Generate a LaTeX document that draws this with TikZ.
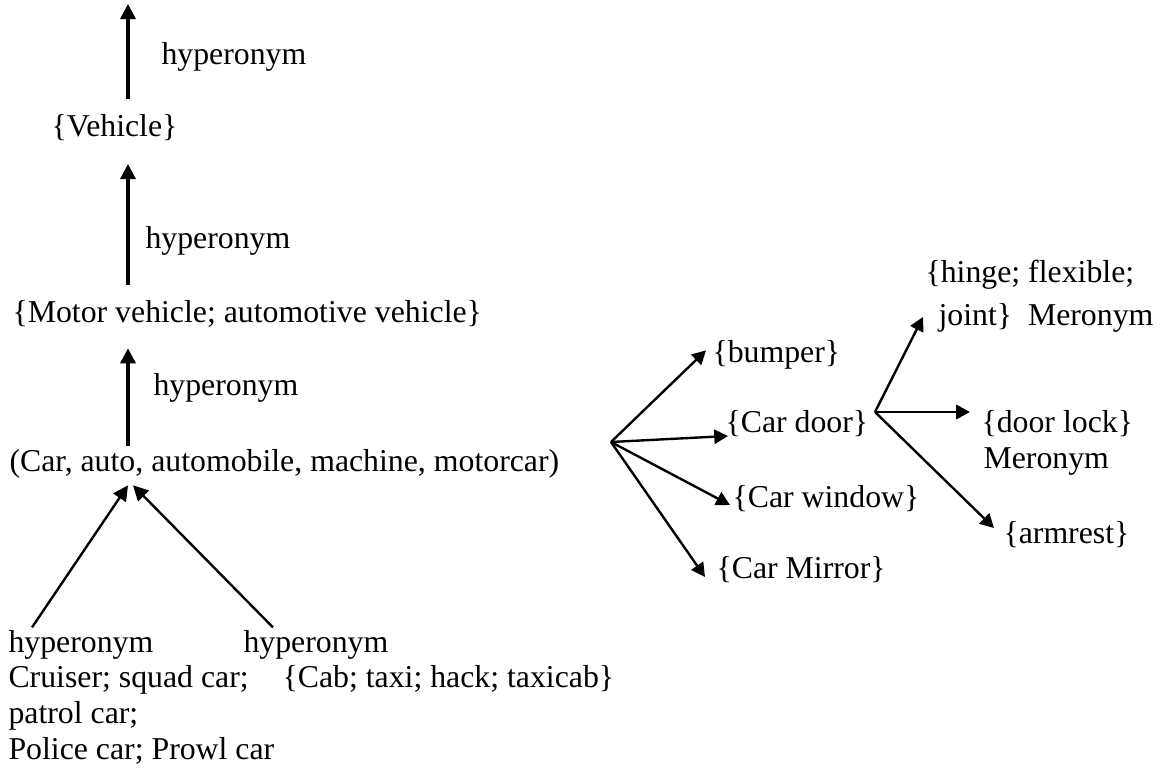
\documentclass[tikz,border=0pt]{standalone}
\usepackage{fontspec}
\setmainfont{Liberation Serif}
\usetikzlibrary{arrows.meta,calc}

\tikzset{
  word/.style={anchor=base west, inner sep=0pt, font=\fontsize{12}{13.8}\selectfont},
  hyp/.style={line width=1.2pt, -{Triangle[length=5.7pt,width=5.7pt]}},
  part/.style={line width=0.9pt, -{Triangle[length=5.2pt,width=5.4pt]}},
}

\begin{document}
\begin{tikzpicture}[x=0.3774pt, y=-0.3774pt]
  \useasboundingbox (0,0) rectangle (1161,772);

  % hyperonym chain on the left
  \coordinate (col) at (128,0);
  \coordinate (top) at (128,4);
  \node[word] (vehicle) at (51,137) {\{Vehicle\}};
  \node[word] (motor) at (12,322) {\{Motor vehicle; automotive vehicle\}};
  \node[word] (car) at (9,471) {(Car, auto, automobile, machine, motorcar)};
  \node[word] (h1) at (161,65) {hyperonym};
  \node[word] (h2) at (145,248) {hyperonym};
  \node[word] (h3) at (153,395) {hyperonym};

  \draw[hyp, shorten <=5.8pt] (vehicle.north -| col) -- (top);
  \draw[hyp, shorten <=5.4pt, shorten >=8.4pt] (motor.north -| col) -- (vehicle.south -| col);
  \draw[hyp, shorten <=0.8pt, shorten >=7.9pt] (car.north -| col) -- (motor.south -| col);

  % hyponyms below
  \foreach \t [count=\i] in {hyperonym, {Cruiser; squad car;}, {patrol car;}, {Police car; Prowl car}}
    \node[word] (cr\i) at (8, 616.3+35.7*\i) {\t};
  \node[word] (cab1) at (243,652) {hyperonym};
  \node[word] (cab2) at (282,687.7) {\{Cab; taxi; hack; taxicab\}};

  \draw[hyp, line width=0.9pt] ($(cr1.north west)+(24,-2)$) -- ($(car.south -| col)+(0,7)$);
  \draw[hyp, line width=0.9pt] ($(cab1.north west)+(30,-2)$) -- ($(car.south -| col)+(5,7)$);

  % parts of the car
  \coordinate (fan) at (611,442);
  \node[word] (bumper) at (712,362) {\{bumper\}};
  \node[word] (door) at (725,432) {\{Car door\}};
  \node[word] (window) at (732,507) {\{Car window\}};
  \node[word] (mirror) at (716,578) {\{Car Mirror\}};

  \draw[part] (fan) -- ($(bumper.west)+(-6,-4)$);
  \draw[part] (fan) -- ($(door.base west)+(3,4)$);
  \draw[part] (fan) -- ($(window.base west)+(-2,-2)$);
  \draw[part] (fan) -- ($(mirror.base west)+(-11,-1)$);

  % parts of the door
  \coordinate (hub) at (875,412);
  \node[word] (hinge1) at (925,283) {\{hinge; flexible;};
  \node[word] (hinge2) at (938,325) {joint\}\ \ Meronym};
  \node[word] (lock1) at (981,432) {\{door lock\}};
  \node[word] (lock2) at (983,468) {Meronym};
  \node[word] (arm) at (1003,543) {\{armrest\}};

  \draw[part] (hub) -- ($(hinge2.base west)+(-15,-8)$);
  \draw[part] (hub) -- ($(lock1.base west)+(-11,-20)$);
  \draw[part] (hub) -- ($(arm.base west)+(-9,-15)$);
\end{tikzpicture}
\end{document}
